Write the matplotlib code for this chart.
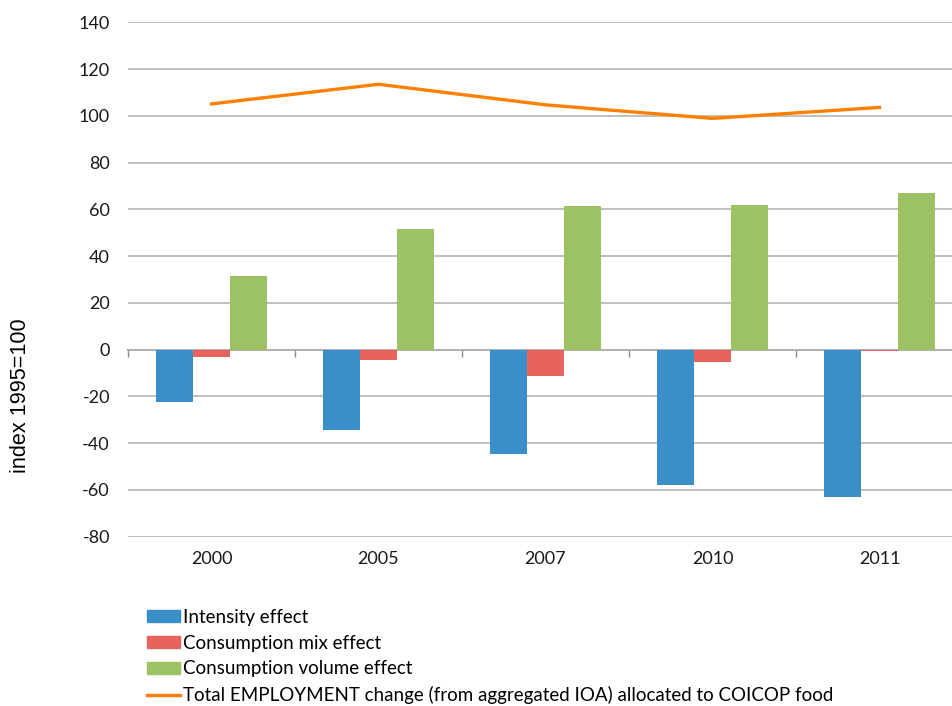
import numpy as np
import matplotlib
matplotlib.use("Agg")
import matplotlib.pyplot as plt
from matplotlib.patches import Patch
from matplotlib.lines import Line2D

years = ["2000", "2005", "2007", "2010", "2011"]
intensity = [-22.3, -34.2, -44.7, -57.8, -62.9]
mix = [-3.3, -4.3, -11.4, -5.1, -0.5]
volume = [31.3, 51.8, 61.4, 61.7, 67.1]
total = [105.1, 113.5, 104.7, 98.9, 103.6]

labels = ["Intensity effect", "Consumption mix effect", "Consumption volume effect",
          "Total EMPLOYMENT change (from aggregated IOA) allocated to COICOP food"]

c_blue = "#3a8fc9"
c_red = "#e8625e"
c_green = "#9dc263"
c_orange = "#ff8000"

plt.rcParams['font.family'] = ['Lato', 'DejaVu Sans']
plt.rcParams['axes.unicode_minus'] = False

fig = plt.figure(figsize=(9.52, 7.06), dpi=100)
ax = fig.add_axes([128 / 952, 1 - 536.7 / 706, 835 / 952, (536.7 - 22.3) / 706])

x = np.arange(len(years))
w = 1 / 4.5
ax.bar(x - w, intensity, w, color=c_blue, zorder=3)
ax.bar(x, mix, w, color=c_red, zorder=3)
ax.bar(x + w, volume, w, color=c_green, zorder=3)
ax.plot(x, total, color=c_orange, lw=2.4, zorder=4)

ax.set_xlim(-0.5, len(years) - 0.5)
ax.set_ylim(-80, 140)
ax.set_yticks(np.arange(-80, 141, 20))
ax.yaxis.grid(True, color="#b4b4b4", lw=1.2, zorder=0)
ax.set_axisbelow(True)
for s in ax.spines.values():
    s.set_visible(False)
ax.tick_params(axis="y", length=0, pad=13, labelsize=13, colors="#1a1a1a")
ax.set_xticks(x)
ax.set_xticklabels(years)
ax.tick_params(axis="x", length=0, pad=10, labelsize=13, colors="#1a1a1a")

# category axis drawn at zero with boundary tick marks
sec = ax.secondary_xaxis(80 / 220)
sec.set_xticks(np.arange(len(years) + 1) - 0.5)
sec.set_xticklabels([])
sec.tick_params(axis="x", direction="out", length=5, width=1, color="#8c8c8c")
sec.spines["bottom"].set_color("#8c8c8c")
sec.spines["bottom"].set_linewidth(1.2)

fig.text(21 / 952, 1 - 396 / 706, "index 1995=100", rotation=90, ha="center",
         va="center", fontsize=15.6, family=["Liberation Sans", "DejaVu Sans"])

handles = [Patch(color=c_blue), Patch(color=c_red), Patch(color=c_green),
           Line2D([], [], color=c_orange, lw=2.4)]
fig.legend(handles, labels, loc="upper left", bbox_to_anchor=(147 / 952, 1 - 609 / 706),
           frameon=False, fontsize=13.5, handlelength=1.76, handleheight=0.59,
           handletextpad=0.15, labelspacing=0.46, borderaxespad=0, borderpad=0)

fig.savefig("out.png", dpi=100)
